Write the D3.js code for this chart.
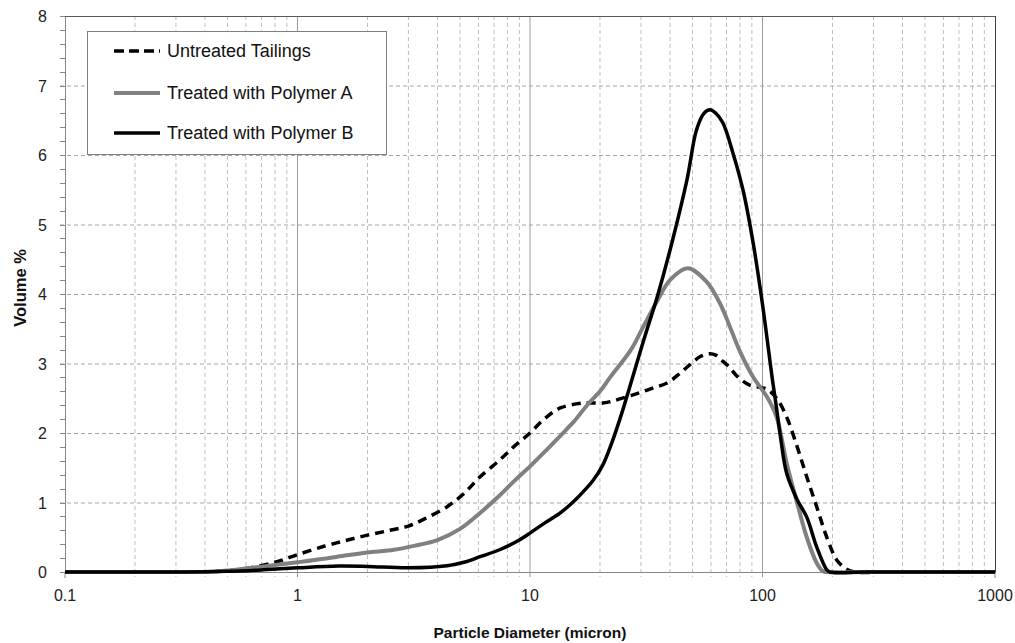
<!DOCTYPE html>
<html><head><meta charset="utf-8">
<script src="https://cdn.jsdelivr.net/npm/d3@7"></script>
<style>body{margin:0;background:#fff}svg{display:block;font-family:"Liberation Sans",Arial,sans-serif}</style>
</head><body><svg id="c" width="1015" height="643"></svg>
<script>
const seriesNames = ["Untreated Tailings","Treated with Polymer A","Treated with Polymer B"];
const untreatedX = [0.1,0.3,0.4,0.5,0.6,0.8,1,1.3,1.6,2,2.5,3,3.5,4.4,5.2,6.1,7.4,8.5,10,11.5,13.5,16.9,20.5,22.1,26,29.7,34,38.9,44.2,48.6,54,59,63,67.6,72,77.6,88,100,104.5,115,127,141,155,171,189,209,230,250,350,1000];
const untreatedY = [0,0,0,0.02,0.05,0.14,0.25,0.37,0.45,0.53,0.6,0.66,0.76,0.94,1.13,1.37,1.61,1.8,2.0,2.2,2.36,2.43,2.43,2.45,2.52,2.58,2.65,2.72,2.86,2.98,3.1,3.14,3.12,3.03,2.95,2.82,2.69,2.65,2.63,2.5,2.23,1.8,1.37,0.94,0.5,0.17,0.04,0,0,0];
const polyAX = [0.1,0.3,0.4,0.5,0.6,0.8,1,1.3,1.63,2,2.6,3.2,4,5,6.1,7.4,8.5,10,11.5,13.5,15.5,17.6,20,22.1,27.2,30.6,35.4,40,47.7,57.3,65.5,72.4,79.6,91,104.5,115,127,141,155,171,182,190,280,1000];
const polyAY = [0,0,0,0.02,0.05,0.1,0.14,0.19,0.24,0.28,0.32,0.38,0.46,0.62,0.85,1.1,1.3,1.52,1.72,1.96,2.17,2.4,2.6,2.8,3.2,3.52,3.91,4.2,4.37,4.18,3.87,3.53,3.19,2.81,2.52,2.23,1.57,0.99,0.5,0.13,0.01,0,0,0];
const polyBX = [0.1,0.3,0.5,0.7,1,1.5,2,3,4.4,5.2,6.1,7.4,9,10,11.5,13.5,16,18.7,20.5,22.6,24.9,30.6,35.4,40,47.3,52,56,59.4,63,67.6,74.6,82.4,91,100.5,110,115,120,127,141,155,171,189,195,280,1000];
const polyBY = [0,0,0.01,0.03,0.06,0.086,0.08,0.06,0.09,0.14,0.22,0.32,0.46,0.56,0.7,0.85,1.07,1.32,1.53,1.88,2.3,3.3,3.98,4.63,5.64,6.36,6.6,6.65,6.6,6.46,6.03,5.5,4.75,3.8,2.8,2.35,1.9,1.42,1.04,0.79,0.36,0.03,0,0,0];
const xTickLabels = ["0.1","1","10","100","1000"];
const yTickLabels = ["0","1","2","3","4","5","6","7","8"];

const svg = d3.select("#c");
const L=65,R=995,T=16,B=572;
const x = d3.scaleLog().domain([0.1,1000]).range([L,R]);
const y = d3.scaleLinear().domain([0,8]).range([B,T]);

const minorX=[], majorX=[1,10,100];
for(let d=0.1; d<1000; d*=10) for(let k=2;k<=9;k++) minorX.push(+(d*k).toPrecision(3));
const g = svg.append("g");
g.selectAll(".mv").data(minorX).enter().append("line")
  .attr("x1",d=>x(d)).attr("x2",d=>x(d)).attr("y1",T).attr("y2",B+5)
  .attr("stroke","#bfbfbf").attr("stroke-width",1).attr("stroke-dasharray","4,3");
g.selectAll(".hv").data(d3.range(1,8)).enter().append("line")
  .attr("x1",L-5).attr("x2",R).attr("y1",d=>y(d)+0.5).attr("y2",d=>y(d)+0.5)
  .attr("stroke","#a6a6a6").attr("stroke-width",1).attr("stroke-dasharray","4,3");
g.selectAll(".Mv").data(majorX).enter().append("line")
  .attr("x1",d=>x(d)).attr("x2",d=>x(d)).attr("y1",T).attr("y2",B+5)
  .attr("stroke","#9a9a9a").attr("stroke-width",1);
g.selectAll(".yt").data(d3.range(0,8.01,0.2)).enter().append("line")
  .attr("x1",L-5).attr("x2",L).attr("y1",d=>Math.round(y(d))+0.5).attr("y2",d=>Math.round(y(d))+0.5)
  .attr("stroke","#868686");
g.selectAll(".xt").data([0.1,1000]).enter().append("line")
  .attr("x1",d=>x(d)).attr("x2",d=>x(d)).attr("y1",B).attr("y2",B+6).attr("stroke","#868686");
svg.append("rect").attr("x",L+0.5).attr("y",T+0.5).attr("width",R-L).attr("height",B-T)
  .attr("fill","none").attr("stroke","#868686");
svg.append("line").attr("x1",L).attr("x2",R).attr("y1",T+0.5).attr("y2",T+0.5).attr("stroke","#595959");
svg.append("line").attr("x1",R+0.5).attr("x2",R+0.5).attr("y1",T).attr("y2",B).attr("stroke","#404040");

svg.selectAll(".yl").data(yTickLabels).enter().append("text")
  .attr("x",47).attr("y",d=>y(+d)+6).attr("text-anchor","end").attr("font-size",16).attr("fill","#222").text(d=>d);
svg.selectAll(".xl").data(xTickLabels).enter().append("text")
  .attr("x",d=>x(+d)).attr("y",601).attr("text-anchor","middle").attr("font-size",16).attr("fill","#222").text(d=>d);

svg.append("text").attr("x",530).attr("y",638).attr("text-anchor","middle").attr("font-size",15.5)
  .attr("font-weight","bold").attr("fill","#111").text("Particle Diameter (micron)");
svg.append("text").attr("transform","translate(26,288) rotate(-90)").attr("text-anchor","middle").attr("font-size",16.5)
  .attr("font-weight","bold").attr("fill","#111").text("Volume %");

const line = d3.line().x(d=>x(d[0])).y(d=>y(d[1])).curve(d3.curveCatmullRom.alpha(0.5));
const series = [
  {x:untreatedX,y:untreatedY,color:"#000",w:3.5,dash:"9,6"},
  {x:polyAX,y:polyAY,color:"#808080",w:4,dash:null},
  {x:polyBX,y:polyBY,color:"#000",w:3.5,dash:null}
];
series.forEach(s=>{
  const pts = s.x.map((v,i)=>[v,s.y[i]]);
  svg.append("path").attr("d",line(pts)).attr("fill","none").attr("stroke",s.color)
    .attr("stroke-width",s.w).attr("stroke-dasharray",s.dash).attr("stroke-linejoin","round");
});

const lg = svg.append("g");
lg.append("rect").attr("x",87.5).attr("y",31.5).attr("width",299).attr("height",123)
  .attr("fill","#fff").attr("stroke","#808080");
const rowsY=[51,93,133];
series.forEach((s,i)=>{
  lg.append("line").attr("x1",114).attr("x2",160).attr("y1",rowsY[i]).attr("y2",rowsY[i])
    .attr("stroke",s.color).attr("stroke-width",s.w).attr("stroke-dasharray",s.dash?"10,5":null);
  lg.append("text").attr("x",167).attr("y",rowsY[i]+6).attr("font-size",18).attr("fill","#111").text(seriesNames[i]);
});
</script></body></html>
